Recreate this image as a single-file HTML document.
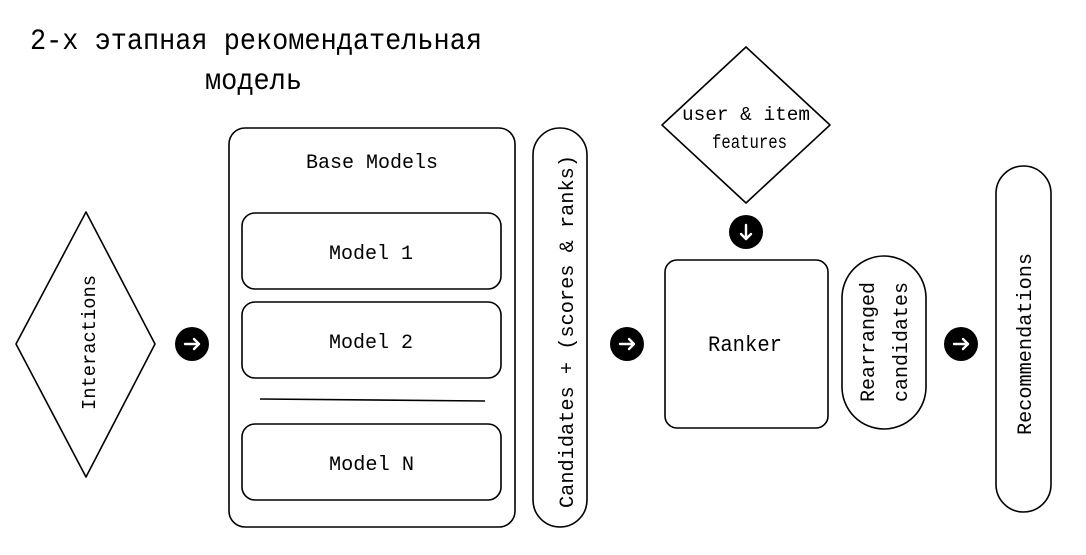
<!DOCTYPE html>
<html><head><meta charset="utf-8"><style>
html,body{margin:0;padding:0;background:#fff;}
svg{display:block;}
text{font-family:"Liberation Mono","DejaVu Sans Mono",monospace;fill:#000;}
</style></head><body>
<svg width="1086" height="555" viewBox="0 0 1086 555" xmlns="http://www.w3.org/2000/svg">
<g fill="none" stroke="#000" stroke-width="1.6" stroke-linejoin="round">
<polygon points="86,212 155,344 86,477 16,344"/>
<rect x="229" y="128" width="286" height="399" rx="16"/>
<rect x="242" y="213" width="259" height="76" rx="13"/>
<rect x="242" y="302" width="259" height="76" rx="13"/>
<rect x="242" y="424" width="259" height="76" rx="13"/>
<line x1="260" y1="399" x2="485" y2="401"/>
<rect x="533" y="128" width="54" height="399" rx="27"/>
<polygon points="746,47 830,125 746,203 662,125"/>
<rect x="665" y="260" width="163" height="168" rx="12"/>
<rect x="842" y="256" width="84" height="173" rx="42"/>
<rect x="996" y="166" width="55" height="346" rx="27.5"/>
</g>
<g>
<circle cx="192" cy="344" r="17" fill="#000"/>
<circle cx="627" cy="344" r="17" fill="#000"/>
<circle cx="961" cy="344" r="17" fill="#000"/>
<circle cx="746" cy="232" r="17" fill="#000"/>
</g>
<g fill="none" stroke="#fff" stroke-width="2.4" stroke-linecap="round" stroke-linejoin="round">
<path d="M185 344 H199 M194 339 L199 344 L194 349"/>
<path d="M620 344 H634 M629 339 L634 344 L629 349"/>
<path d="M954 344 H968 M963 339 L968 344 L963 349"/>
<path d="M746 225 V239 M741 234 L746 239 L751 234"/>
</g>
<text x="30" y="49" font-size="30" textLength="452" lengthAdjust="spacingAndGlyphs">2-х этапная рекомендательная</text>
<text x="205" y="89" font-size="30" textLength="97" lengthAdjust="spacingAndGlyphs">модель</text>
<text x="306" y="168" font-size="20" textLength="132" lengthAdjust="spacingAndGlyphs">Base Models</text>
<text x="329" y="259" font-size="20" textLength="84" lengthAdjust="spacingAndGlyphs">Model 1</text>
<text x="329" y="348" font-size="20" textLength="84" lengthAdjust="spacingAndGlyphs">Model 2</text>
<text x="329" y="470" font-size="20" textLength="85" lengthAdjust="spacingAndGlyphs">Model N</text>
<text x="708" y="351" font-size="22" textLength="74" lengthAdjust="spacingAndGlyphs">Ranker</text>
<text x="682" y="120" font-size="19" textLength="128" lengthAdjust="spacingAndGlyphs">user &amp; item</text>
<text x="712" y="148" font-size="19" textLength="75" lengthAdjust="spacingAndGlyphs">features</text>
<text transform="translate(95,410) rotate(-90)" font-size="19" textLength="135" lengthAdjust="spacingAndGlyphs">Interactions</text>
<text transform="translate(573,508) rotate(-90)" font-size="20" textLength="353" lengthAdjust="spacingAndGlyphs">Candidates + (scores &amp; ranks)</text>
<text transform="translate(874,402) rotate(-90)" font-size="20" textLength="120" lengthAdjust="spacingAndGlyphs">Rearranged</text>
<text transform="translate(907,402) rotate(-90)" font-size="20" textLength="120" lengthAdjust="spacingAndGlyphs">candidates</text>
<text transform="translate(1031,435) rotate(-90)" font-size="20" textLength="182" lengthAdjust="spacingAndGlyphs">Recommendations</text>
</svg>
</body></html>
